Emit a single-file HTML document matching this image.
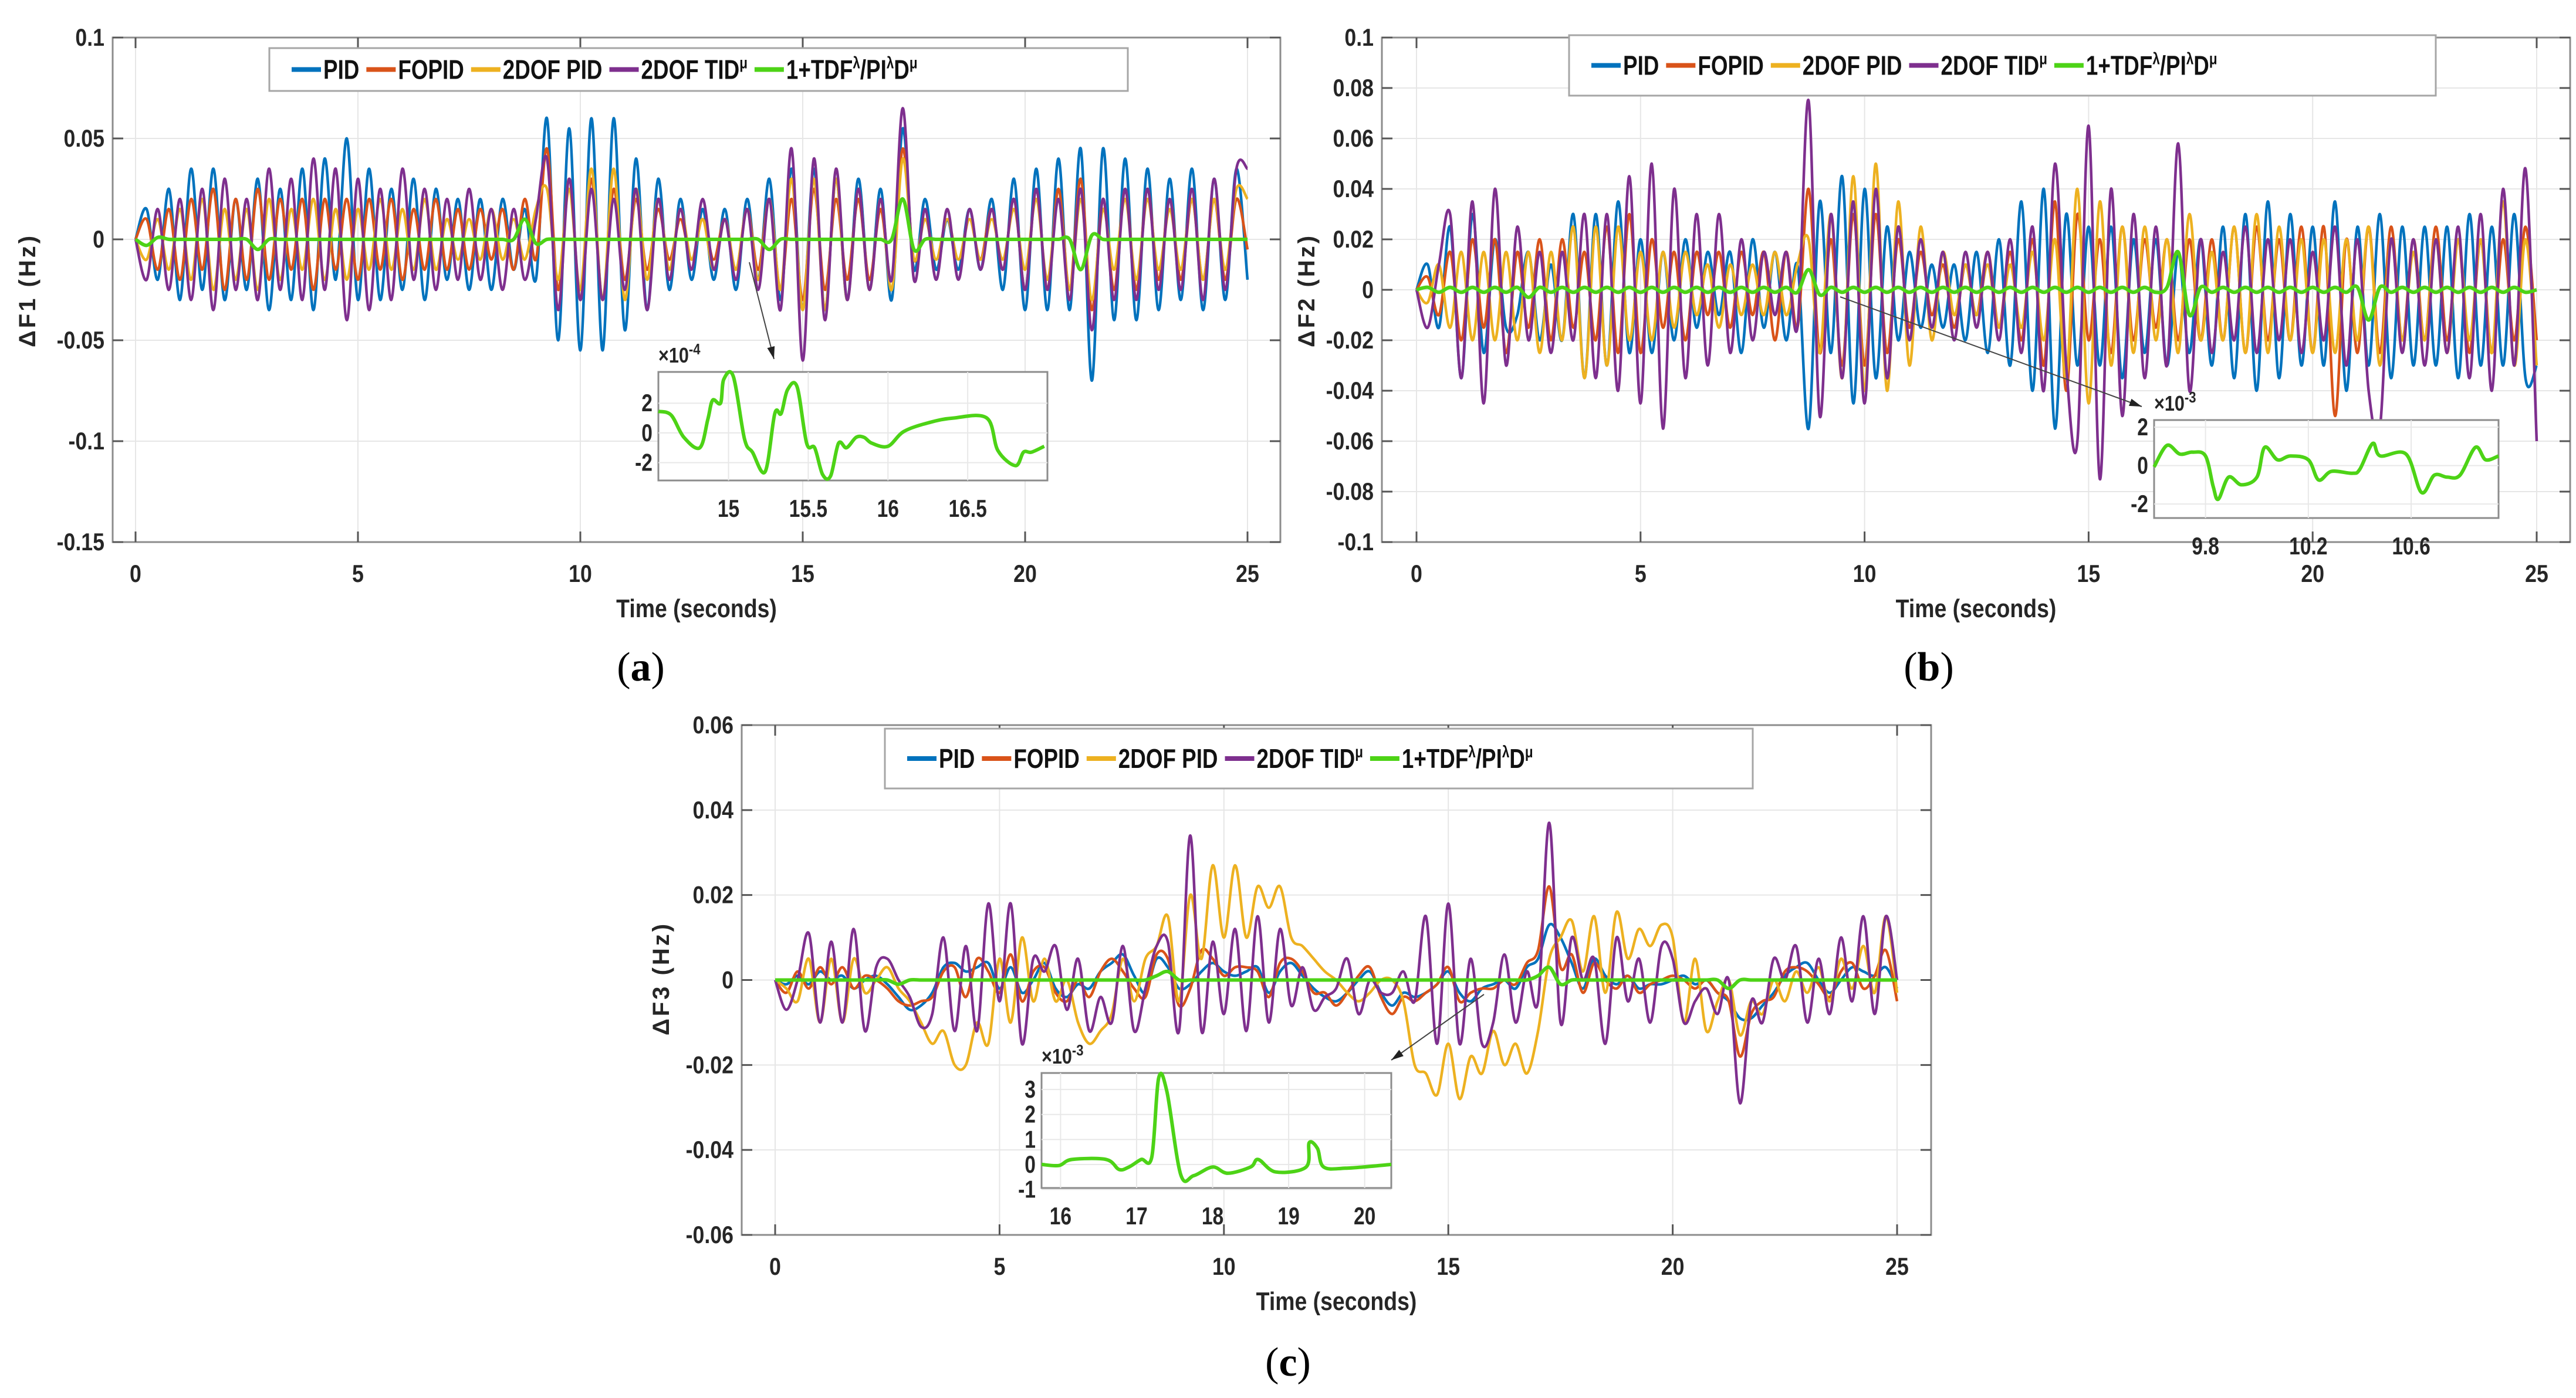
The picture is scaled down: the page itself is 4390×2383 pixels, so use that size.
<!DOCTYPE html>
<html><head><meta charset="utf-8"><style>
html,body{margin:0;padding:0;background:#fff}
svg{display:block}
text{font-family:"Liberation Sans Narrow","Liberation Sans",sans-serif}
</style></head><body>
<svg id="fig" width="4390" height="2383" viewBox="0 0 4390 2383" xmlns="http://www.w3.org/2000/svg"></svg>
<script>
// ---------- data (values in mHz, sampled uniformly over 0..25 s) ----------
const seriesNames = ["PID","FOPID","2DOF PID","2DOF TID","1+TDF/PID"];
const a_pid=[0,15,-20,25,-30,35,-25,35,-30,20,-25,30,-35,25,-30,35,-35,40,-20,50,-30,35,-30,25,-25,30,-30,25,-20,20,-25,20,-25,20,-15,15,-20,60,-50,55,-55,60,-55,60,-45,40,-35,30,-25,20,-20,15,-20,15,-25,20,-20,30,-30,35,-35,35,-35,30,-30,30,-25,25,-30,55,-15,20,-15,10,-15,15,-15,20,-25,30,-35,35,-35,40,-35,45,-70,45,-40,40,-40,35,-35,30,-30,35,-35,30,-30,35,-20];
const a_fopid=[0,10,-15,15,-20,20,-15,25,-25,20,-20,25,-20,20,-15,20,-25,20,-15,20,-20,20,-15,20,-20,15,-15,20,-15,15,-15,15,-10,15,-15,20,-10,45,-25,30,-30,30,-30,25,-20,20,-15,15,-10,10,-10,10,-10,10,-15,15,-15,20,-25,20,-30,25,-25,20,-20,20,-20,15,-20,45,-10,10,-10,10,-10,10,-10,15,-15,20,-25,25,-25,25,-25,30,-35,20,-25,25,-25,25,-20,20,-20,20,-20,20,-20,20,-5];
const a_2dof=[0,-10,10,-15,15,-20,20,-25,15,-20,15,-25,20,-20,15,-15,20,-20,15,-20,15,-15,20,-15,15,-15,20,-15,10,-10,10,-10,15,-10,10,-10,15,25,-20,25,-25,35,-30,35,-30,25,-20,20,-15,15,-10,10,-15,10,-15,15,-20,20,-25,30,-35,30,-35,30,-30,25,-25,20,-25,40,-10,10,-10,10,-10,10,-10,10,-10,15,-15,20,-20,20,-25,20,-30,15,-15,20,-20,20,-15,15,-15,20,-20,20,-15,25,20];
const a_tid=[0,-20,15,-25,20,-30,25,-35,30,-25,20,-30,35,-25,30,-30,40,-25,35,-40,30,-35,25,-30,35,-20,25,-25,20,-20,25,-20,15,-25,15,-20,10,40,-35,30,-30,25,-30,20,-25,25,-35,20,-20,15,-15,20,-15,10,-20,15,-25,20,-35,45,-60,40,-40,35,-30,25,-25,20,-20,65,-20,15,-20,15,-20,15,-15,15,-15,20,-25,25,-25,20,-30,25,-45,20,-30,25,-30,25,-25,20,-25,25,-30,30,-25,35,35];
const a_green=[0,-3,1,0,0,0,0,0,0,0,0,-5,0,0,0,0,0,0,0,0,0,0,0,0,0,0,0,0,0,0,0,0,0,0,0,10,-2,0,0,0,0,0,0,0,0,0,0,0,0,0,0,0,0,0,0,0,0,-5,0,0,0,0,0,0,0,0,0,0,0,20,-5,0,0,0,0,0,0,0,0,0,0,0,0,0,0,-15,2,0,0,0,0,0,0,0,0,0,0,0,0,0,0];
const a_inset_t=[14.56,14.64,14.72,14.82,14.87,14.9,14.95,14.97,15.03,15.1,15.15,15.23,15.29,15.33,15.37,15.43,15.49,15.54,15.59,15.64,15.69,15.74,15.8,15.85,15.9,16.0,16.1,16.26,16.41,16.62,16.69,16.8,16.85,16.9,16.98];
const a_inset_v=[1.45,1.2,-0.3,-1.0,0.9,2.2,2.0,3.6,3.8,-0.4,-1.3,-2.6,1.3,1.3,2.9,3.1,-0.7,-1.0,-2.8,-2.9,-0.7,-1.0,-0.3,-0.3,-0.7,-0.9,0.1,0.7,1.0,1.0,-1.2,-2.2,-1.3,-1.3,-0.9];

const b_pid=[0,10,-15,25,-35,30,-25,20,-15,-10,15,-20,10,-20,30,-35,30,-30,35,-25,20,-25,15,-20,20,-15,15,-10,15,-25,20,-15,15,-20,10,-55,35,-25,45,-45,40,-35,25,-20,15,-15,10,-15,10,-20,15,-25,20,-30,35,-40,40,-55,30,-30,25,-30,25,-35,20,-25,20,-30,15,-25,20,-30,25,-35,30,-40,35,-35,30,-30,25,-30,35,-40,25,-30,30,-35,25,-30,25,-30,25,-35,30,-30,25,-30,30,-35,-30];
const b_fopid=[0,5,-10,15,-20,20,-15,20,-25,15,-15,20,-20,20,-15,15,-20,25,-25,30,-25,20,-15,15,-20,15,-10,15,-15,15,-10,15,-20,15,-15,40,-25,20,-30,30,-30,30,-25,20,-15,15,-10,10,-15,10,-10,15,-15,15,-20,20,-30,35,-40,30,-20,20,-25,25,-20,20,-15,20,-20,20,-20,20,-20,25,-25,25,-20,20,-20,25,-25,25,-50,20,-25,25,-25,25,-20,20,-20,25,-20,20,-25,20,-25,20,-20,25,-20];
const b_2dof=[0,-5,10,-15,15,-20,15,-20,15,-20,15,-25,15,-20,25,-35,25,-30,25,-20,15,-20,15,-15,15,-10,10,-15,10,-10,10,-10,15,-10,10,20,-25,30,-35,45,-40,50,-40,35,-30,25,-20,15,-10,10,-10,10,-15,10,-15,15,-20,20,-35,40,-45,35,-30,25,-25,25,-20,20,-25,30,-20,15,-20,25,-25,30,-25,25,-20,20,-25,20,-25,20,-20,25,-30,20,-20,15,-20,20,-25,20,-20,20,-25,35,-30,20,-30];
const b_tid=[0,-15,10,30,-35,35,-45,40,-30,25,-20,15,-25,15,-20,30,-35,30,-40,45,-45,50,-55,40,-35,30,-30,30,-25,20,-20,15,-10,15,-15,75,-50,30,-35,35,-45,40,-35,25,-20,20,-15,15,-20,15,-15,15,-20,20,-25,25,-40,50,-30,-60,65,-75,40,-50,30,-35,25,-30,58,-40,20,-25,15,-20,25,-25,20,-20,20,-25,15,-20,25,-30,20,-40,-55,20,-25,20,-30,20,-25,25,-35,30,-40,40,-30,48,-60];
const b_green=[0,1,-1,1,-1,1,-1,1,-1,1,-3,1,-1,1,-1,1,-1,1,-1,1,-1,1,-1,1,-1,1,-1,1,-1,1,-1,1,-1,1,-1,8,-2,1,-1,1,-1,1,-1,1,-1,1,-1,1,-1,1,-1,1,-1,1,-1,1,-1,1,-1,1,-1,1,-1,1,-1,1,-1,1,15,-10,1,-1,1,-1,1,-1,1,-1,1,-1,1,-1,1,-1,1,-12,1,-1,1,-1,1,-1,1,-1,1,-1,1,-1,1,-1,0];
const b_inset_t=[9.6,9.65,9.7,9.75,9.8,9.83,9.85,9.89,9.94,10.0,10.03,10.08,10.13,10.2,10.24,10.29,10.37,10.4,10.45,10.48,10.58,10.64,10.69,10.74,10.79,10.85,10.89,10.94];
const b_inset_v=[-0.07,1.05,0.6,0.7,0.5,-1.1,-1.75,-0.6,-1.0,-0.6,0.95,0.3,0.5,0.3,-0.75,-0.3,-0.4,-0.2,1.15,0.5,0.6,-1.4,-0.5,-0.6,-0.5,0.95,0.3,0.5];

const c_pid=[0,-1,1,-1,2,0,1,-2,0,1,-1,-4,-7,-6,-3,3,4,2,3,4,-2,3,-3,0,4,-2,-4,-1,-2,2,4,6,1,-3,5,3,-2,-1,2,4,2,1,2,3,-3,2,4,1,-2,-4,-5,-3,0,2,-3,-6,-3,-4,-3,-1,2,-3,-5,-2,-1,0,-2,3,5,13,10,4,-2,5,1,-1,1,-2,-1,-1,0,1,-1,0,-3,-5,-9,-9,-6,-3,1,3,4,0,-3,0,3,2,1,3,-2];
const c_fopid=[0,-3,2,-2,3,-1,3,-2,1,0,-2,-5,-6,-5,-4,2,3,-4,5,2,-3,6,-5,2,3,-3,-5,0,-4,2,5,2,-2,-4,6,5,-6,-2,7,5,1,3,3,2,-4,4,5,2,-3,-3,-6,-3,1,3,-4,-8,-4,-5,-3,-1,3,-5,-3,-2,-2,0,-1,4,7,22,3,6,-3,4,0,-2,1,-3,-1,0,1,0,-2,0,-3,-5,-18,-8,-5,-4,2,3,2,-1,-4,2,4,-2,1,7,-5];
const c_2dof=[0,-2,-5,5,-10,5,-10,5,-3,0,3,-2,-5,-10,-15,-12,-20,-20,-10,-15,5,-10,10,-5,5,-5,0,-10,-15,-12,-8,5,-5,5,8,15,-5,20,5,27,10,27,10,22,17,22,10,8,5,2,0,-3,-5,-3,0,0,-5,-20,-22,-27,-15,-28,-18,-22,-12,-20,-15,-22,-12,5,10,14,2,15,-3,16,5,12,8,13,10,-10,5,-12,-5,0,-13,-5,-8,0,-5,2,-3,3,-5,5,-2,8,-3,15,-3];
const c_tid=[0,-7,0,11,-10,9,-10,12,-12,3,5,0,-4,-11,-8,10,-12,8,-12,18,-5,18,-15,5,2,8,-7,5,-12,-4,-10,8,-12,-2,8,9,-12,34,-12,9,-8,12,-12,15,-10,12,-6,3,-7,-4,-2,5,-8,0,-3,-3,2,-5,15,-15,18,-15,5,-15,-10,6,-10,2,-5,37,-10,10,0,5,-15,10,-5,5,-10,8,5,-10,-5,-2,-8,0,-29,-5,-10,5,0,8,-10,5,-8,10,-5,15,-8,15,0];
const c_green=[0,0,0,0,0,0,0,0,0,0,0,-1,0,0,0,0,0,0,0,0,0,0,0,0,0,0,0,0,0,0,0,0,0,0,1,2,0,0,0,0,0,0,0,0,0,0,0,0,0,0,0,0,0,0,0,0,0,0,0,0,0,0,0,0,0,0,0,0,1,3,-1,0,0,0,0,0,0,0,0,0,0,0,0,0,0,-2,0,0,0,0,0,0,0,0,0,0,0,0,0,0,0];
const c_inset_t=[15.75,15.98,16.15,16.6,16.77,16.9,17.06,17.2,17.29,17.4,17.58,17.75,18.0,18.2,18.5,18.6,18.83,19.23,19.27,19.38,19.46,19.75,20.35];
const c_inset_v=[0,-0.04,0.2,0.2,-0.2,-0.1,0.2,0.3,3.45,2.9,-0.4,-0.45,-0.1,-0.35,-0.1,0.2,-0.3,-0.1,0.87,0.64,-0.1,-0.15,0];

const a_yticks=[-0.15,-0.1,-0.05,0,0.05,0.1];
const b_yticks=[-0.1,-0.08,-0.06,-0.04,-0.02,0,0.02,0.04,0.06,0.08,0.1];
const c_yticks=[-0.06,-0.04,-0.02,0,0.02,0.04,0.06];
const xticks=[0,5,10,15,20,25];
const a_inset_xt=[15,15.5,16,16.5], a_inset_yt=[-2,0,2];
const b_inset_xt=[9.8,10.2,10.6], b_inset_yt=[-2,0,2];
const c_inset_xt=[16,17,18,19,20], c_inset_yt=[-1,0,1,2,3];

// ---------- drawing ----------
const NS="http://www.w3.org/2000/svg";
const svg=document.getElementById('fig');
const COLORS=["#0072BD","#D95319","#EDB120","#7E2F8E","#4DD316"];
function el(tag,attrs,parent){const e=document.createElementNS(NS,tag);for(const k in attrs)e.setAttribute(k,attrs[k]);(parent||svg).appendChild(e);return e;}
function squeeze(t,f){const w=t.getComputedTextLength();t.setAttribute('textLength',(w*f).toFixed(1));t.setAttribute('lengthAdjust','spacingAndGlyphs');return w*f;}
function smoothPath(pts){
  let d="M"+pts[0][0].toFixed(1)+","+pts[0][1].toFixed(1);
  for(let i=0;i<pts.length-1;i++){
    const p0=pts[Math.max(0,i-1)],p1=pts[i],p2=pts[i+1],p3=pts[Math.min(pts.length-1,i+2)];
    const c1=[p1[0]+(p2[0]-p0[0])/6,p1[1]+(p2[1]-p0[1])/6],c2=[p2[0]-(p3[0]-p1[0])/6,p2[1]-(p3[1]-p1[1])/6];
    d+="C"+c1[0].toFixed(1)+","+c1[1].toFixed(1)+" "+c2[0].toFixed(1)+","+c2[1].toFixed(1)+" "+p2[0].toFixed(1)+","+p2[1].toFixed(1);
  }
  return d;
}
function fmt(v){return (+v.toFixed(4)).toString();}

function panel(P){
  const g=el('g',{});
  
  
  const X=v=>P.x0+(v-0)/25*(P.x25-P.x0);
  const Y=v=>P.yTop+(P.ymax-v)/(P.ymax-P.ymin)*(P.yBot-P.yTop);
  for(const t of xticks){const l=el('line',{x1:X(t),x2:X(t),y1:P.yTop,y2:P.yBot,stroke:"#e6e6e6","stroke-width":2},g);}
  for(const t of P.yticks){const l=el('line',{x1:P.bl,x2:P.br,y1:Y(t),y2:Y(t),stroke:"#e6e6e6","stroke-width":2},g);}
  const bx=el('rect',{x:P.bl,y:P.yTop,width:P.br-P.bl,height:P.yBot-P.yTop,fill:"none",stroke:"#8c8c8c","stroke-width":3},g);
  
  for(const t of xticks){
    el('line',{x1:X(t),x2:X(t),y1:P.yBot,y2:P.yBot-18,stroke:"#555","stroke-width":3},g);
    el('line',{x1:X(t),x2:X(t),y1:P.yTop,y2:P.yTop+18,stroke:"#555","stroke-width":3},g);
    const tx=el('text',{x:X(t),y:P.yBot+68,"text-anchor":"middle","font-size":42,"font-weight":"bold",fill:"#262626"},g);
    tx.textContent=t;
    squeeze(tx,0.85);
  }
  for(const t of P.yticks){
    el('line',{x1:P.bl,x2:P.bl+18,y1:Y(t),y2:Y(t),stroke:"#555","stroke-width":3},g);
    el('line',{x1:P.br,x2:P.br-18,y1:Y(t),y2:Y(t),stroke:"#555","stroke-width":3},g);
    const ty=el('text',{x:P.bl-14,y:Y(t)+14,"text-anchor":"end","font-size":42,"font-weight":"bold",fill:"#262626"},g);
    ty.textContent=fmt(t);
    squeeze(ty,0.85);
  }
  P.series.forEach((s,k)=>{
    const pts=s.map((v,i)=>[X(i*25/(s.length-1)),Y(v/1000)]);
    const p=el('path',{d:smoothPath(pts),fill:"none",stroke:COLORS[k],"stroke-width":k==4?6:4.5,"stroke-linejoin":"round"},g);
    
    
  });
  const xt=el('text',{x:(P.bl+P.br)/2,y:P.yBot+128,"text-anchor":"middle","font-size":44,"font-weight":"bold",fill:"#262626"},g);
  xt.textContent="Time (seconds)";
  squeeze(xt,0.85);
  const yt=el('text',{x:0,y:0,"text-anchor":"middle","font-size":40,"font-weight":"bold","letter-spacing":4,fill:"#262626",transform:`translate(${P.ylx},${P.yly}) rotate(-90)`},g);
  yt.textContent=P.ylab;
  const L=P.leg;
  const lb=el('rect',{x:L.x1,y:L.y1,width:L.x2-L.x1,height:L.y2-L.y1,fill:"#fff",stroke:"#a6a6a6","stroke-width":3},g);
  
  let cx=L.x1+38;const cy=(L.y1+L.y2)/2;
  const labels=[["PID"],["FOPID"],["2DOF PID"],["2DOF TID","μ"],["1+TDF","λ","/PI","λ","D","μ"]];
  labels.forEach((lab,k)=>{
    const ln=el('line',{x1:cx,x2:cx+50,y1:cy,y2:cy,stroke:COLORS[k],"stroke-width":8},g);
    
    const tx=el('text',{x:cx+54,y:cy+16,"font-size":46,"font-weight":"bold",fill:"#111"},g);
    
    lab.forEach((part,j)=>{const ts=el('tspan',{},tx);ts.textContent=part;if(j%2==1){ts.setAttribute('font-size',28);ts.setAttribute('dy',-18);}else if(j>0){ts.setAttribute('dy',18);}});
    const w=squeeze(tx,0.8);
    cx+=54+w+12;
  });
  const I=P.inset;
  const IX=v=>I.x1+(v-I.tmin)/(I.tmax-I.tmin)*(I.x2-I.x1);
  const IY=v=>I.y1+(I.vmax-v)/(I.vmax-I.vmin)*(I.y2-I.y1);
  const ar=el('line',{x1:I.ax1,y1:I.ay1,x2:I.ax2,y2:I.ay2,stroke:"#444","stroke-width":2},g);
  
  const ang=Math.atan2(I.ay2-I.ay1,I.ax2-I.ax1);
  el('polygon',{points:`${I.ax2},${I.ay2} ${I.ax2-22*Math.cos(ang-0.3)},${I.ay2-22*Math.sin(ang-0.3)} ${I.ax2-22*Math.cos(ang+0.3)},${I.ay2-22*Math.sin(ang+0.3)}`,fill:"#222"},g);
  const ib=el('rect',{x:I.x1,y:I.y1,width:I.x2-I.x1,height:I.y2-I.y1,fill:"#fff",stroke:"#8c8c8c","stroke-width":3},g);
  
  for(const t of I.xt){el('line',{x1:IX(t),x2:IX(t),y1:I.y1,y2:I.y2,stroke:"#e8e8e8","stroke-width":2},g);
    const tx=el('text',{x:IX(t),y:I.y2+62,"text-anchor":"middle","font-size":42,"font-weight":"bold",fill:"#262626"},g);tx.textContent=fmt(t);
    squeeze(tx,0.8);}
  for(const t of I.yt){el('line',{x1:I.x1,x2:I.x2,y1:IY(t),y2:IY(t),stroke:"#e8e8e8","stroke-width":2},g);
    const ty=el('text',{x:I.x1-10,y:IY(t)+14,"text-anchor":"end","font-size":42,"font-weight":"bold",fill:"#262626"},g);ty.textContent=t;
    squeeze(ty,0.8);}
  const ipts=I.t.map((t,i)=>[IX(t),IY(I.v[i])]);
  const ip=el('path',{d:smoothPath(ipts),fill:"none",stroke:COLORS[4],"stroke-width":6,"stroke-linejoin":"round"},g);
  
  const ex=el('text',{x:I.x1,y:I.y1-16,"font-size":36,"font-weight":"bold",fill:"#262626"},g);
  
  const e1=el('tspan',{},ex);e1.textContent="×10";const e2=el('tspan',{dy:-14,"font-size":26},ex);e2.textContent=I.exp;
  squeeze(ex,0.85);
  const sl=el('text',{x:P.sx,y:P.sy,"text-anchor":"middle","font-size":70,fill:"#000",style:"font-family:'Liberation Serif',serif"},g);
  
  const s1=el('tspan',{},sl);s1.textContent="(";const s2=el('tspan',{"font-weight":"bold"},sl);s2.textContent=P.tag;const s3=el('tspan',{},sl);s3.textContent=")";
}

panel({id:'df1',x0:231,x25:2126,bl:192,br:2182,yTop:64,yBot:924,ymin:-0.15,ymax:0.1,yticks:a_yticks,
  series:[a_pid,a_fopid,a_2dof,a_tid,a_green],ylab:"ΔF1 (Hz)",ylx:60,yly:495,
  leg:{x1:459,x2:1922,y1:82,y2:155},
  inset:{x1:1122,x2:1785,y1:634,y2:819,tmin:14.56,tmax:17.0,vmin:-3.2,vmax:4.1,xt:a_inset_xt,yt:a_inset_yt,t:a_inset_t,v:a_inset_v,exp:"-4",ax1:1277,ay1:447,ax2:1319,ay2:612},
  sx:1092,sy:1160,tag:"a"});
panel({id:'df2',x0:2414,x25:4323,bl:2355,br:4380,yTop:64,yBot:924,ymin:-0.1,ymax:0.1,yticks:b_yticks,
  series:[b_pid,b_fopid,b_2dof,b_tid,b_green],ylab:"ΔF2 (Hz)",ylx:2240,yly:495,
  leg:{x1:2674,x2:4151,y1:60,y2:163},
  inset:{x1:3671,x2:4258,y1:716,y2:883,tmin:9.6,tmax:10.94,vmin:-2.73,vmax:2.37,xt:b_inset_xt,yt:b_inset_yt,t:b_inset_t,v:b_inset_v,exp:"-3",ax1:3136,ay1:506,ax2:3650,ay2:693},
  sx:3287,sy:1160,tag:"b"});
panel({id:'df3',x0:1321,x25:3233,bl:1264,br:3291,yTop:1236,yBot:2105,ymin:-0.06,ymax:0.06,yticks:c_yticks,
  series:[c_pid,c_fopid,c_2dof,c_tid,c_green],ylab:"ΔF3 (Hz)",ylx:1140,yly:1668,
  leg:{x1:1508,x2:2987,y1:1242,y2:1344},
  inset:{x1:1775,x2:2371,y1:1829,y2:2025,tmin:15.75,tmax:20.35,vmin:-0.94,vmax:3.66,xt:c_inset_xt,yt:c_inset_yt,t:c_inset_t,v:c_inset_v,exp:"-3",ax1:2529,ay1:1695,ax2:2371,ay2:1807},
  sx:2195,sy:2345,tag:"c"});
</script>
</body></html>
